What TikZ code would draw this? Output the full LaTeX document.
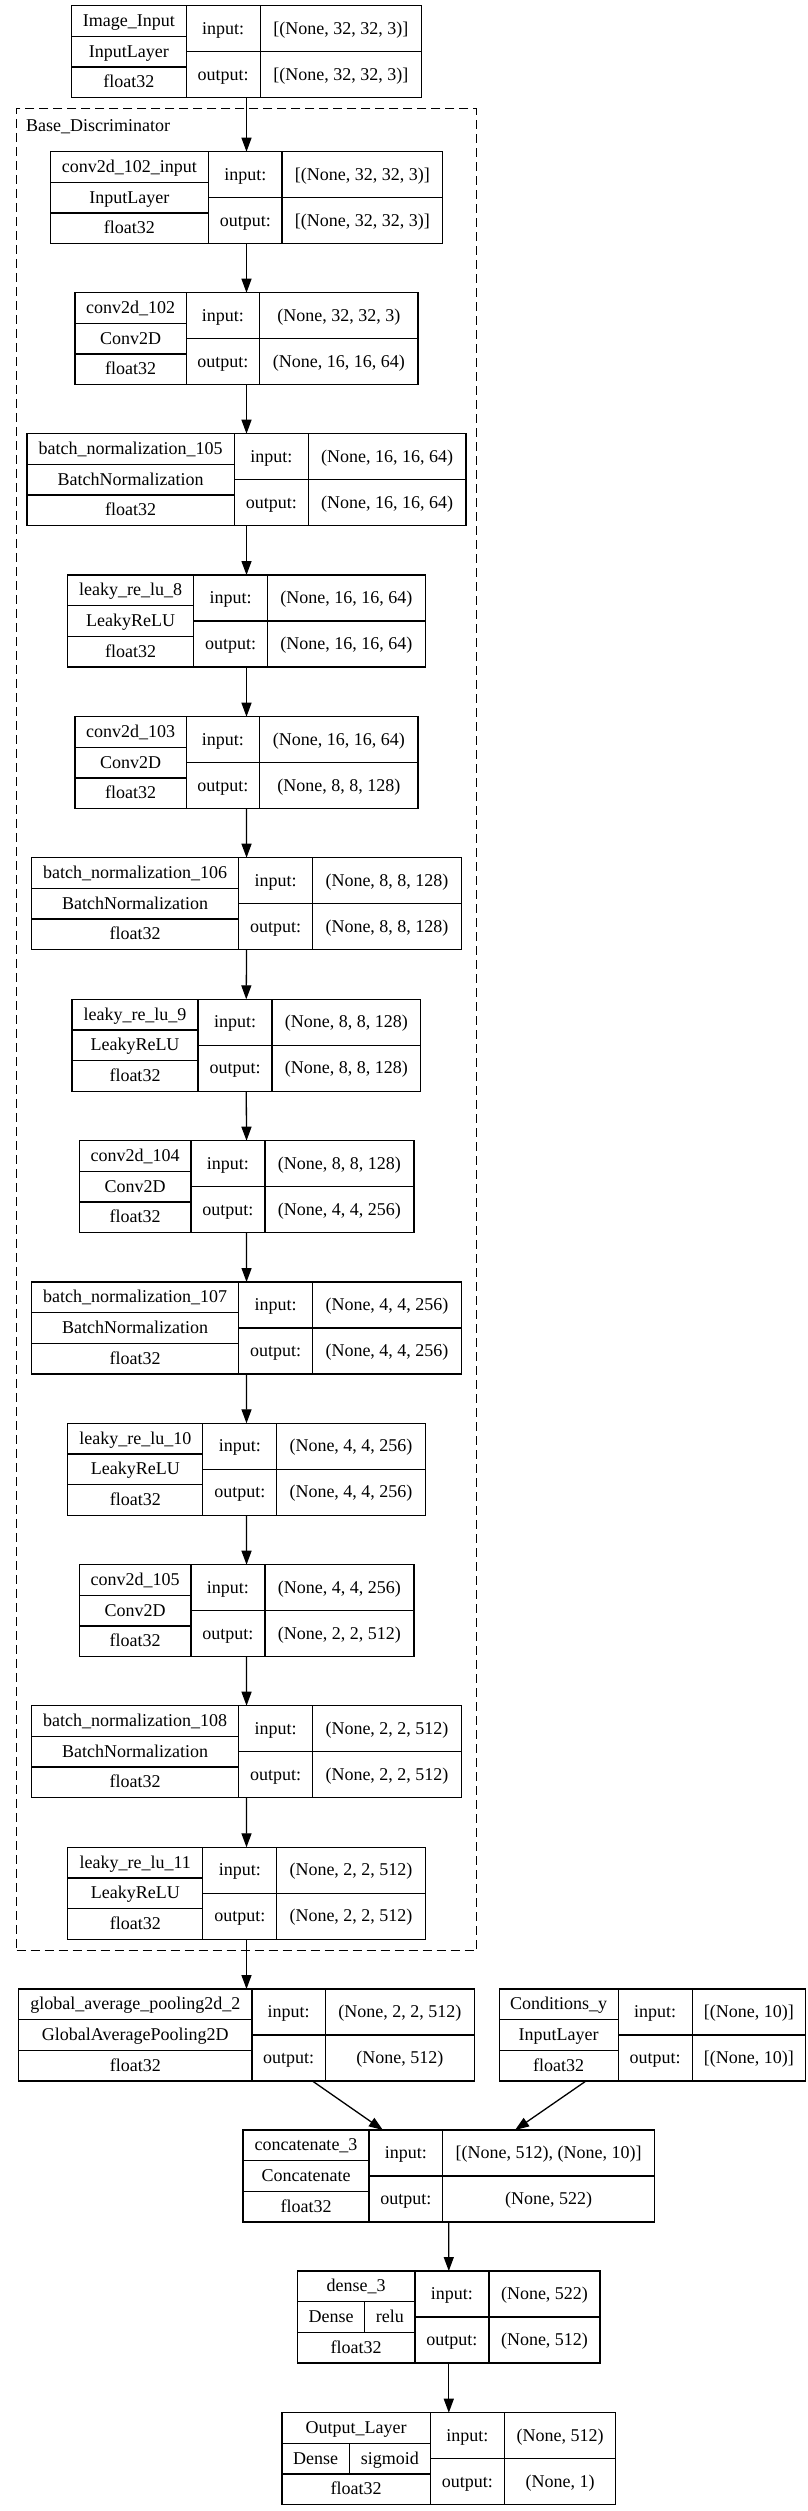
\documentclass[tikz,border=0pt]{standalone}
\usepackage{fontspec}
\setmainfont{Liberation Serif}
\usetikzlibrary{arrows.meta}
\tikzset{
  layer/.style={draw=black, line width=1.3pt, inner sep=0pt, outer sep=0pt, minimum height=92pt},
  divider/.style={draw=black, line width=1.3pt},
  cell/.style={inner sep=0pt, anchor=base, font=\fontsize{18}{20}\selectfont},
  edge/.style={draw=black, line width=1.3pt, -{Triangle[length=14pt,width=10pt]}},
  clusterbox/.style={draw=black, line width=1.3pt, dash pattern=on 9pt off 5pt, inner sep=0pt, outer sep=0pt},
}
\newcommand\lbox[9]{%
  \def\lbid{#1}\def\lbxo{#2}\def\lbxa{#3}\def\lbxb{#4}\def\lbxi{#5}%
  \def\lbtop{#6}\def\lbname{#7}\def\lbtype{#8}\def\lbin{#9}%
  \lboxfinish}
\newcommand\lboxfinish[1]{%
  \pgfmathsetmacro\lbw{\lbxi-\lbxo}%
  \node[layer, minimum width=\lbw pt, anchor=north west] (\lbid) at (\lbxo,\lbtop) {};
  \draw[divider] (\lbxa,\lbtop) -- (\lbxa,\lbtop+92);
  \draw[divider] (\lbxb,\lbtop) -- (\lbxb,\lbtop+92);
  \draw[divider] (\lbxo,\lbtop+30.67) -- (\lbxa,\lbtop+30.67);
  \draw[divider] (\lbxo,\lbtop+61.33) -- (\lbxa,\lbtop+61.33);
  \draw[divider] (\lbxa,\lbtop+46) -- (\lbxi,\lbtop+46);
  \node[cell] (\lbid-name) at ({(\lbxo+\lbxa)/2},\lbtop+15.33+5.5) {\lbname};
  \node[cell] (\lbid-type) at ({(\lbxo+\lbxa)/2},\lbtop+46+5.5) {\lbtype};
  \node[cell] (\lbid-dtype) at ({(\lbxo+\lbxa)/2},\lbtop+76.67+5.5) {float32};
  \node[cell] (\lbid-inl) at ({(\lbxa+\lbxb)/2},\lbtop+23+5.5) {input:};
  \node[cell] (\lbid-outl) at ({(\lbxa+\lbxb)/2},\lbtop+69+5.5) {output:};
  \node[cell] (\lbid-inv) at ({(\lbxb+\lbxi)/2},\lbtop+23+5.5) {\lbin};
  \node[cell] (\lbid-outv) at ({(\lbxb+\lbxi)/2},\lbtop+69+5.5) {#1};
}
\begin{document}
\begin{tikzpicture}[x=1pt,y=-1pt]
\useasboundingbox (0,0) rectangle (807,2511);
\fill[white] (0,0) rectangle (807,2511);

% cluster
\node[clusterbox, minimum width=459.9pt, minimum height=1842pt, anchor=north west] (cluster) at (16.6,108.7) {};
\node[cell, anchor=base west] (cluster-label) at (26,131.5) {Base\_Discriminator};

\lbox{img}{71.4}{186.2}{260.2}{421.6}{5.7}{Image\_Input}{InputLayer}{[(None, 32, 32, 3)]}{[(None, 32, 32, 3)]}
\lbox{c102in}{50.2}{208.5}{282}{442.8}{151.7}{conv2d\_102\_input}{InputLayer}{[(None, 32, 32, 3)]}{[(None, 32, 32, 3)]}
\lbox{c102}{75}{186.2}{259.7}{418}{292.7}{conv2d\_102}{Conv2D}{(None, 32, 32, 3)}{(None, 16, 16, 64)}
\lbox{bn105}{26.9}{234.3}{308.3}{466.1}{433.7}{batch\_normalization\_105}{BatchNormalization}{(None, 16, 16, 64)}{(None, 16, 16, 64)}
\lbox{lr8}{67.8}{193.5}{267.5}{425.2}{575}{leaky\_re\_lu\_8}{LeakyReLU}{(None, 16, 16, 64)}{(None, 16, 16, 64)}
\lbox{c103}{75}{186.2}{259.7}{418}{716.7}{conv2d\_103}{Conv2D}{(None, 16, 16, 64)}{(None, 8, 8, 128)}
\lbox{bn106}{31.6}{238.5}{312.5}{461.5}{857.7}{batch\_normalization\_106}{BatchNormalization}{(None, 8, 8, 128)}{(None, 8, 8, 128)}
\lbox{lr9}{71.9}{198.1}{272.1}{420.6}{999.3}{leaky\_re\_lu\_9}{LeakyReLU}{(None, 8, 8, 128)}{(None, 8, 8, 128)}
\lbox{c104}{79.2}{190.9}{264.9}{413.9}{1140.7}{conv2d\_104}{Conv2D}{(None, 8, 8, 128)}{(None, 4, 4, 256)}
\lbox{bn107}{31.6}{238.5}{312.5}{461.5}{1282}{batch\_normalization\_107}{BatchNormalization}{(None, 4, 4, 256)}{(None, 4, 4, 256)}
\lbox{lr10}{67.8}{202.8}{276.8}{425.2}{1423.3}{leaky\_re\_lu\_10}{LeakyReLU}{(None, 4, 4, 256)}{(None, 4, 4, 256)}
\lbox{c105}{79.2}{190.9}{264.9}{413.9}{1564.7}{conv2d\_105}{Conv2D}{(None, 4, 4, 256)}{(None, 2, 2, 512)}
\lbox{bn108}{31.6}{238.5}{312.5}{461.5}{1705.7}{batch\_normalization\_108}{BatchNormalization}{(None, 2, 2, 512)}{(None, 2, 2, 512)}
\lbox{lr11}{67.8}{202.8}{276.8}{425.2}{1847.3}{leaky\_re\_lu\_11}{LeakyReLU}{(None, 2, 2, 512)}{(None, 2, 2, 512)}
\lbox{gap}{18.6}{252}{325.4}{474.4}{1989}{global\_average\_pooling2d\_2}{GlobalAveragePooling2D}{(None, 2, 2, 512)}{(None, 512)}
\lbox{cond}{499.2}{618.2}{692.2}{805.5}{1989}{Conditions\_y}{InputLayer}{[(None, 10)]}{[(None, 10)]}
\lbox{concat}{243.1}{368.9}{442.8}{654.4}{2130}{concatenate\_3}{Concatenate}{[(None, 512), (None, 10)]}{(None, 522)}
\lbox{dense}{297.5}{414.9}{488.9}{600.1}{2271}{dense\_3}{}{(None, 522)}{(None, 512)}
\lbox{outl}{282}{430.4}{504.4}{615.6}{2412.7}{Output\_Layer}{}{(None, 512)}{(None, 1)}

% split activation cells
\draw[divider] (364.7,2271+30.67) -- (364.7,2271+61.33);
\node[cell] (dense-kind) at ({(297.5+364.7)/2},2271+46+5.5) {Dense};
\node[cell] (dense-act) at ({(364.7+414.9)/2},2271+46+5.5) {relu};
\draw[divider] (349.2,2412.7+30.67) -- (349.2,2412.7+61.33);
\node[cell] (outl-kind) at ({(282+349.2)/2},2412.7+46+5.5) {Dense};
\node[cell] (outl-act) at ({(349.2+430.4)/2},2412.7+46+5.5) {sigmoid};

% edges
\draw[edge] (img.south) -- (c102in.north);
\draw[edge] (c102in.south) -- (c102.north);
\draw[edge] (c102.south) -- (bn105.north);
\draw[edge] (bn105.south) -- (lr8.north);
\draw[edge] (lr8.south) -- (c103.north);
\draw[edge] (c103.south) -- (bn106.north);
\draw[edge] (bn106.south) -- (lr9.north);
\draw[edge] (lr9.south) -- (c104.north);
\draw[edge] (c104.south) -- (bn107.north);
\draw[edge] (bn107.south) -- (lr10.north);
\draw[edge] (lr10.south) -- (c105.north);
\draw[edge] (c105.south) -- (bn108.north);
\draw[edge] (bn108.south) -- (lr11.north);
\draw[edge] (lr11.south) -- (gap.north);
\draw[edge] (gap) -- (concat);
\draw[edge] (cond) -- (concat);
\draw[edge] (concat.south) -- (dense.north);
\draw[edge] (dense.south) -- (outl.north);
\end{tikzpicture}
\end{document}
